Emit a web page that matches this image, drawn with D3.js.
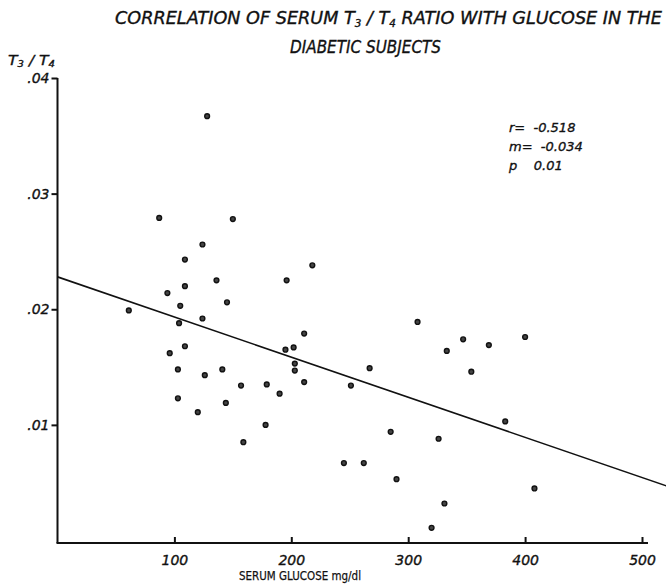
<!DOCTYPE html>
<html>
<head>
<meta charset="utf-8">
<script src="https://cdn.jsdelivr.net/npm/d3@7"></script>
<style>
  body { margin: 0; background: #fff; }
  svg text { font-family: "DejaVu Sans", sans-serif; fill: #111; }
  .lbl { font-style: italic; stroke: #111; stroke-width: 0.35px; }
</style>
</head>
<body>
<div id="chart"></div>
<script>
// Serum glucose (mg/dl) of each diabetic subject
var glucose = [61, 87, 128, 150, 94, 109, 124, 136, 109, 105, 145, 124, 104, 109, 96, 103,
  126, 141, 103, 144, 120, 157, 179, 190, 178, 159, 196, 218, 211, 195, 202, 203, 203,
  211, 251, 267, 308, 347, 369, 333, 400, 354, 383, 285, 326, 245, 262, 290, 408, 331, 320];
// Serum T3/T4 ratio for the same subjects
var ratio = [.0199, .0279, .0367, .0278, .0214, .0243, .0256, .0225, .0220, .0203, .0206,
  .0192, .0188, .0168, .0162, .0148, .0143, .0148, .0123, .0119, .0111, .0134, .0135,
  .0127, .0100, .0085, .0225, .0238, .0179, .0165, .0167, .0153, .0147, .0137, .0134,
  .0149, .0189, .0174, .0169, .0164, .0176, .0146, .0103, .0094, .0088, .0067, .0067,
  .0053, .0045, .0032, .0011];

var xTicks = [100, 200, 300, 400, 500];
var yTicks = [.01, .02, .03, .04];
var yTickLabels = [".01", ".02", ".03", ".04"];
var stats = ["r=  -0.518", "m=  -0.034", "p    0.01"];

// regression line
var intercept = 0.0228, slope = -0.0000347;

var W = 666, H = 586;
var svg = d3.select("#chart").append("svg")
  .attr("width", W).attr("height", H);

var x = d3.scaleLinear().domain([0, 500]).range([57.5, 642]);
var y = d3.scaleLinear().domain([0, 0.04]).range([540.5, 78]);
var axisY = 543;

// clip region so the line stops at the page edge
svg.append("clipPath").attr("id", "clip")
  .append("rect").attr("x", x(0)).attr("y", 70).attr("width", W - x(0)).attr("height", axisY - 70);

// title
svg.append("text").attr("class", "lbl")
  .attr("x", 115).attr("y", 24)
  .attr("textLength", 547).attr("lengthAdjust", "spacingAndGlyphs")
  .style("font-size", "17px")
  .call(function(t) {
    t.append("tspan").text("CORRELATION OF SERUM T");
    t.append("tspan").attr("baseline-shift", "-25%").style("font-size", "10px").text("3");
    t.append("tspan").text(" / T");
    t.append("tspan").attr("baseline-shift", "-25%").style("font-size", "10px").text("4");
    t.append("tspan").text("  RATIO WITH GLUCOSE IN THE");
  });
svg.append("text").attr("class", "lbl")
  .attr("x", 290).attr("y", 53)
  .attr("textLength", 151).attr("lengthAdjust", "spacingAndGlyphs")
  .style("font-size", "17px")
  .text("DIABETIC SUBJECTS");

// y axis title
svg.append("text").attr("class", "lbl")
  .attr("x", 8).attr("y", 65)
  .attr("textLength", 47).attr("lengthAdjust", "spacingAndGlyphs")
  .style("font-size", "14px")
  .call(function(t) {
    t.append("tspan").text("T");
    t.append("tspan").attr("baseline-shift", "-25%").style("font-size", "9px").text("3");
    t.append("tspan").text(" / T");
    t.append("tspan").attr("baseline-shift", "-25%").style("font-size", "9px").text("4");
  });

// Y axis
var gy = svg.append("g")
  .attr("transform", "translate(" + x(0) + ",0)")
  .call(d3.axisLeft(y).tickValues(yTicks)
    .tickFormat(function(d, i) { return yTickLabels[i]; })
    .tickSize(6).tickSizeOuter(0));
gy.select(".domain").remove();
gy.selectAll("line").attr("stroke", "#111").attr("stroke-width", 2);
gy.selectAll("text").attr("class", "lbl").style("font-size", "14px")
  .style("font-family", "DejaVu Sans, sans-serif").attr("fill", "#111").attr("x", -8);

svg.append("line")
  .attr("x1", x(0)).attr("x2", x(0))
  .attr("y1", y(0.04)).attr("y2", axisY)
  .attr("stroke", "#111").attr("stroke-width", 2);

// X axis
var gx = svg.append("g")
  .attr("transform", "translate(0," + axisY + ")")
  .call(d3.axisBottom(x).tickValues(xTicks).tickSize(-6).tickSizeOuter(0).tickPadding(7));
gx.select(".domain").remove();
gx.selectAll("line").attr("stroke", "#111").attr("stroke-width", 2);
gx.selectAll("text").attr("class", "lbl").style("font-size", "14px")
  .style("font-family", "DejaVu Sans, sans-serif").attr("fill", "#111").attr("dy", "1.1em");

svg.append("line")
  .attr("x1", x(0) - 1).attr("x2", x(500) + 6)
  .attr("y1", axisY).attr("y2", axisY)
  .attr("stroke", "#111").attr("stroke-width", 2);

svg.append("text")
  .attr("x", 239).attr("y", 580)
  .attr("textLength", 122).attr("lengthAdjust", "spacingAndGlyphs")
  .style("font-size", "12px")
  .style("stroke", "#111").style("stroke-width", "0.25px")
  .text("SERUM GLUCOSE mg/dl");

// regression line
svg.append("line")
  .attr("clip-path", "url(#clip)")
  .attr("x1", x(0)).attr("y1", y(intercept))
  .attr("x2", x(530)).attr("y2", y(intercept + slope * 530))
  .attr("stroke", "#111").attr("stroke-width", 1.6);

// points
svg.selectAll("circle.pt")
  .data(glucose)
  .enter()
  .append("circle")
  .attr("class", "pt")
  .attr("cx", function(d) { return x(d); })
  .attr("cy", function(d, i) { return y(ratio[i]); })
  .attr("r", 2.4)
  .attr("fill", "#444")
  .attr("stroke", "#111").attr("stroke-width", 1.4);

// stats
svg.selectAll("text.stat")
  .data(stats)
  .enter()
  .append("text")
  .attr("class", "stat lbl")
  .attr("x", 509)
  .attr("y", function(d, i) { return 132 + i * 19; })
  .style("font-size", "13px")
  .style("white-space", "pre")
  .attr("xml:space", "preserve")
  .text(function(d) { return d; });
</script>
</body>
</html>
